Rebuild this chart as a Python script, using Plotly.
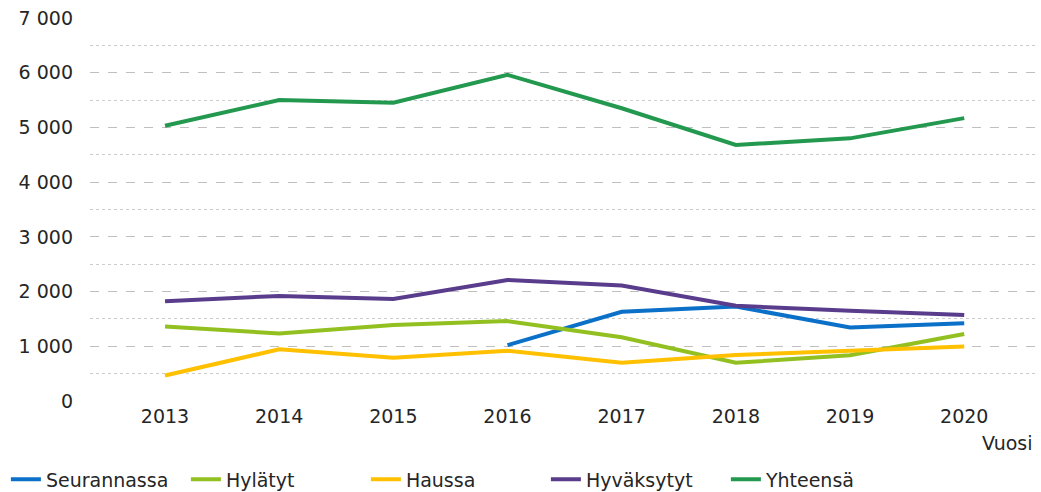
import plotly.graph_objects as go

years = [2013, 2014, 2015, 2016, 2017, 2018, 2019, 2020]
seurannassa = [None, None, None, 1020, 1630, 1725, 1345, 1420]
hylatyt = [1360, 1235, 1390, 1460, 1165, 700, 835, 1225]
haussa = [465, 945, 790, 920, 700, 840, 920, 995]
hyvaksytyt = [1825, 1920, 1865, 2212, 2110, 1740, 1650, 1572]
yhteensa = [5030, 5500, 5450, 5960, 5350, 4680, 4800, 5170]

series = [
    ("Seurannassa", seurannassa, "#0A70C8"),
    ("Hylätyt", hylatyt, "#92C020"),
    ("Haussa", haussa, "#FFC000"),
    ("Hyväksytyt", hyvaksytyt, "#593C8C"),
    ("Yhteensä", yhteensa, "#23984F"),
]

font_family = "DejaVu Sans, Verdana, sans-serif"
txt = "#262626"

fig = go.Figure()
for name, vals, color in series:
    fig.add_trace(go.Scatter(x=years, y=vals, name=name, mode="lines",
                             line=dict(color=color, width=4)))

fig.update_layout(
    width=1041, height=492,
    margin=dict(l=90, r=6, t=18, b=91, autoexpand=False),
    plot_bgcolor="white", paper_bgcolor="white",
    font=dict(family=font_family, size=19, color=txt),
    showlegend=True,
    legend=dict(orientation="h", xref="paper", yref="paper",
                x=-0.089, xanchor="left", y=-0.155, yanchor="top",
                entrywidth=135, entrywidthmode="pixels",
                bgcolor="rgba(0,0,0,0)",
                font=dict(size=19, color=txt), traceorder="normal"),
    xaxis=dict(range=[2012.343, 2020.62], tickmode="array", tickvals=years,
               ticktext=[str(y) for y in years], showgrid=False, zeroline=False,
               showline=False, ticks="", ticklabelstandoff=2),
    yaxis=dict(range=[0, 7000], dtick=1000, tickformat=",", showgrid=True,
               gridcolor="#BFBFBF", griddash="dash", gridwidth=1,
               zeroline=False, showline=False, ticks="", ticklabelstandoff=16,
               minor=dict(dtick=500, showgrid=True, gridcolor="#CCCCCC",
                          griddash="dot", gridwidth=1)),
    separators=", ",
    annotations=[dict(text="Vuosi", xref="paper", yref="paper", x=1.0, y=-0.077,
                      xanchor="right", yanchor="top", showarrow=False,
                      font=dict(size=19, color=txt))],
)

fig.write_html("out.html", config={"displayModeBar": False},
               post_script="document.body.style.margin='0';document.body.style.overflow='hidden';")
